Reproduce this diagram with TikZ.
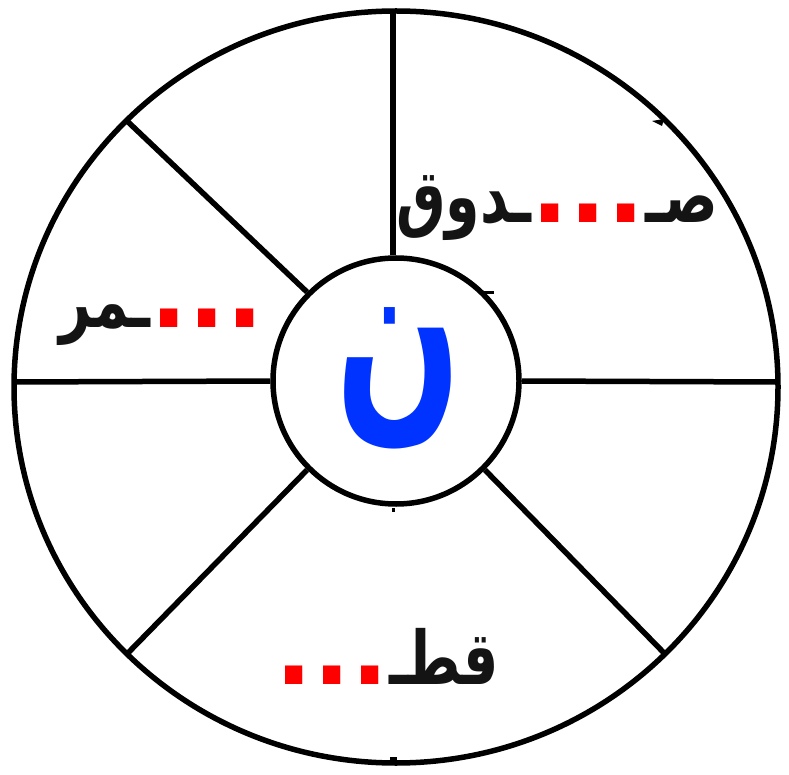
\documentclass[tikz,border=0pt]{standalone}
\usepackage{fontspec}
\usepackage{graphicx}
\newfontfamily\arabicfont[Script=Arabic]{DejaVu Sans}
\TeXXeTstate=1
\definecolor{nblue}{RGB}{0,51,255}
\definecolor{dotred}{RGB}{255,0,0}
\definecolor{ink}{RGB}{20,20,20}
\tikzset{
  ring/.style={draw=black, line width=5.5pt},
  spoke/.style={draw=black, line width=5.5pt},
  word/.style={font=\arabicfont\bfseries\fontsize{66}{70}\selectfont, text=ink, inner sep=0pt},
  nub/.style={fill=black},
}
\newcommand{\rdots}{{\color{dotred}\fontsize{98}{98}\selectfont .\kern1pt.\kern1pt.}}
\newcommand{\arw}[1]{\scalebox{0.84}[1.12]{\beginR #1\endR}}
\begin{document}
\begin{tikzpicture}[x=1pt, y=-1pt]
\useasboundingbox (0,0) rectangle (789,775);
\fill[white] (0,0) rectangle (789,775);
\draw[ring] (396,387) ellipse [x radius=382, y radius=376];
\node[circle, draw=black, line width=5.5pt, minimum size=246pt, inner sep=0pt] (c) at (396,381) {};
\coordinate (o90) at (393,11);
\coordinate (o0) at (778,382);
\coordinate (o180) at (14,382);
\coordinate (o135) at (126,120);
\coordinate (o225) at (126,655);
\coordinate (o315) at (666,655);
\draw[spoke] (o90 |- c.north) -- (o90);
\draw[spoke] (c.east) -- (o0);
\draw[spoke] (c.west) -- (o180);
\draw[spoke] (c.135) -- (o135);
\draw[spoke] (c.225) -- (o225);
\draw[spoke] (c.315) -- (o315);
% small marks
\fill[nub] (652,121) -- (664,119) -- (662,126) -- cycle;
\fill[nub] (483,291) rectangle (494,294);
\fill[nub] (392,508) rectangle (395,512);
\fill[nub] (390,757) rectangle (397,763);
\node[word] (w1) at (557,208) {\arw{ـدوق}\rdots\arw{صـ}};
\node[word] (w2) at (162,325) {\arw{ـمر}\rdots};
\node[word] (w3) at (387,656) {\rdots\arw{قطـ}};
\node[font=\arabicfont\bfseries\fontsize{165}{165}\selectfont, text=nblue, inner sep=0pt] (n) at (399,378) {\scalebox{0.9}[1.38]{\beginR ن\endR}};
\end{tikzpicture}
\end{document}
